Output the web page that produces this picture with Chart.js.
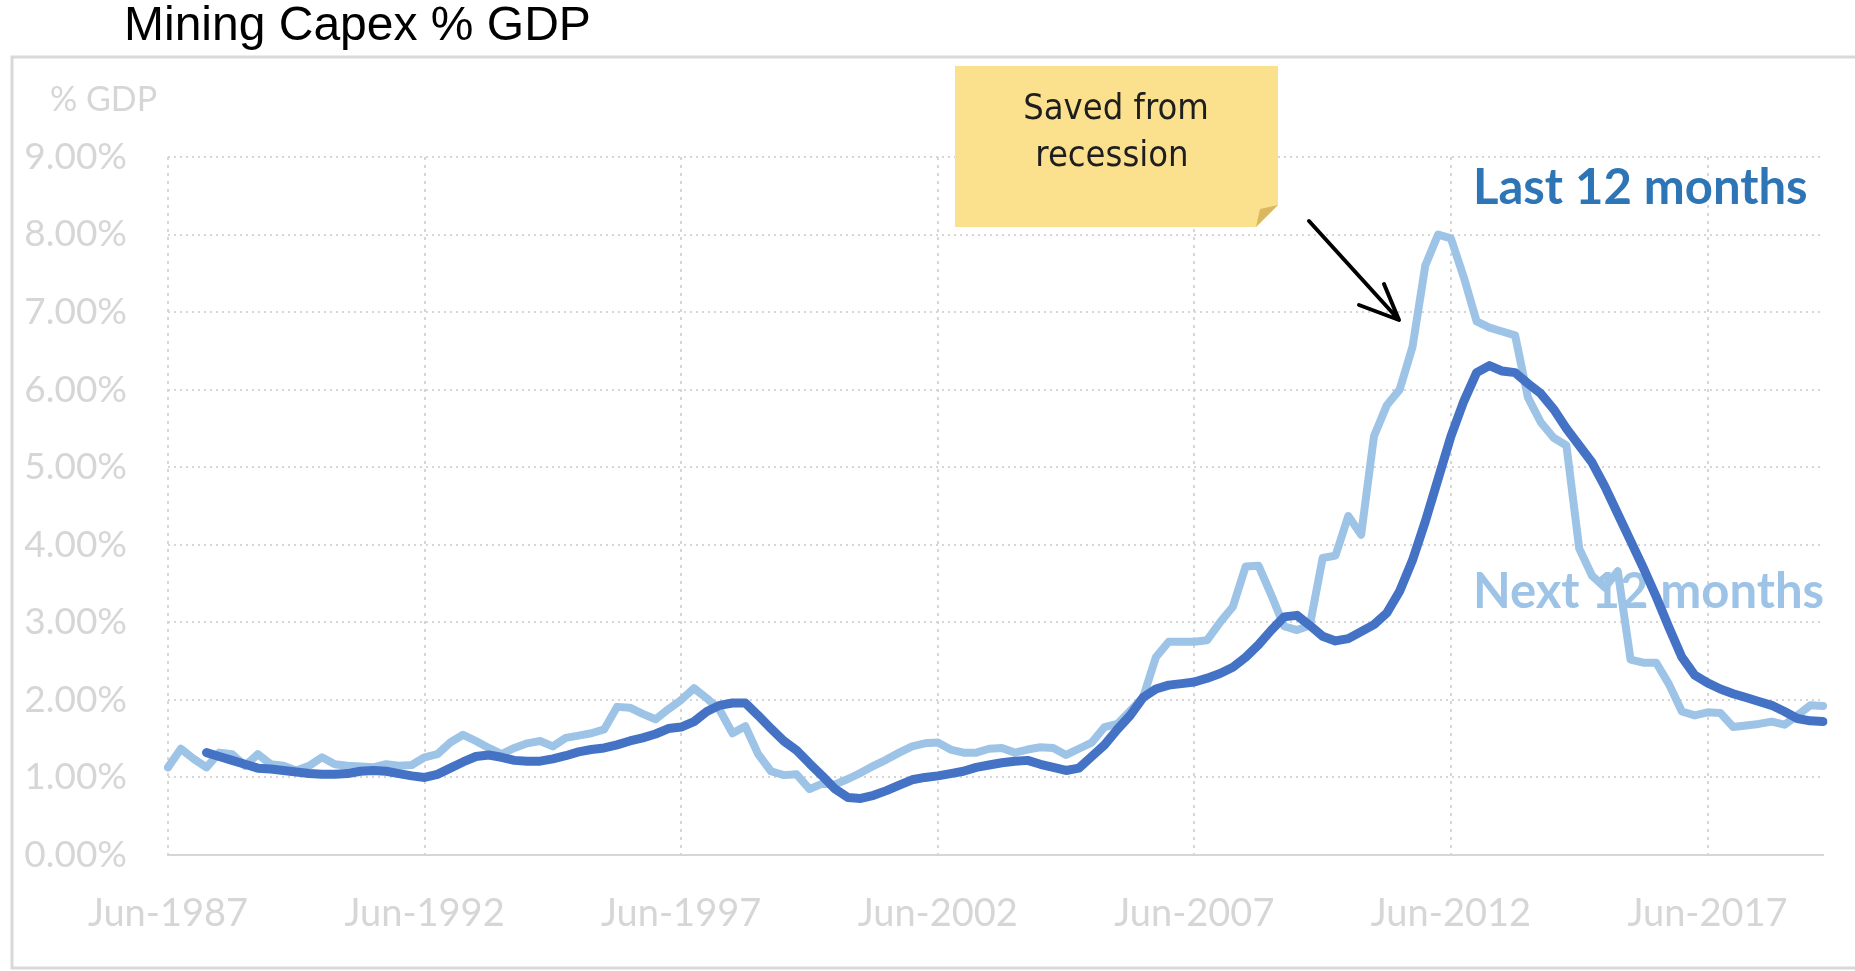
<!DOCTYPE html>
<html><head><meta charset="utf-8">
<script src="https://cdn.jsdelivr.net/npm/chart.js@4.4.1/dist/chart.umd.min.js"></script>
<style>html,body{margin:0;padding:0;background:#fff;overflow:hidden}canvas{display:block}</style>
</head><body>
<canvas id="c" width="1855" height="971"></canvas>
<script>
// Quarterly observations, first quarter = Jun-1987
const quarterNames = ["Mar","Jun","Sep","Dec"];
const firstYear = 1987;
const firstQuarterIndex = 1; // Jun

// "Last 12 months" (% of GDP)
const last12 = [
 null,null,null,1.32,1.27,1.22,1.17,1.12,1.11,1.09,
 1.07,1.05,1.04,1.04,1.05,1.08,1.09,1.08,1.05,1.02,
 1.00,1.04,1.12,1.20,1.27,1.29,1.26,1.22,1.21,1.21,
 1.24,1.28,1.33,1.36,1.38,1.42,1.47,1.51,1.56,1.63,
 1.65,1.72,1.85,1.93,1.96,1.96,1.80,1.63,1.47,1.35,
 1.18,1.02,0.85,0.74,0.73,0.77,0.83,0.90,0.97,1.00,
 1.02,1.05,1.08,1.13,1.16,1.19,1.21,1.22,1.17,1.13,
 1.09,1.12,1.27,1.42,1.62,1.80,2.03,2.14,2.19,2.21,
 2.23,2.28,2.34,2.42,2.55,2.71,2.90,3.07,3.09,2.96,
 2.82,2.76,2.79,2.88,2.97,3.12,3.40,3.80,4.30,4.85,
 5.40,5.85,6.22,6.31,6.24,6.22,6.08,5.95,5.75,5.50,
 5.28,5.06,4.75,4.40,4.05,3.70,3.33,2.93,2.55,2.32,
 2.22,2.14,2.08,2.03,1.98,1.93,1.85,1.76,1.73,1.72
];

// "Next 12 months" (% of GDP)
const next12 = [
 1.13,1.37,1.24,1.13,1.32,1.30,1.15,1.30,1.17,1.15,
 1.09,1.15,1.26,1.17,1.15,1.14,1.13,1.17,1.15,1.16,
 1.26,1.30,1.45,1.55,1.47,1.38,1.30,1.38,1.44,1.47,
 1.40,1.51,1.54,1.57,1.62,1.91,1.90,1.82,1.75,1.88,
 2.00,2.15,2.02,1.87,1.57,1.66,1.30,1.08,1.03,1.04,
 0.85,0.92,0.91,0.98,1.06,1.15,1.23,1.32,1.40,1.44,
 1.45,1.36,1.32,1.32,1.37,1.38,1.32,1.36,1.39,1.38,
 1.29,1.37,1.45,1.65,1.69,1.86,2.03,2.55,2.75,2.75,
 2.75,2.77,3.00,3.20,3.72,3.73,3.35,2.95,2.90,2.96,
 3.83,3.86,4.37,4.13,5.40,5.80,6.00,6.55,7.60,8.00,
 7.95,7.45,6.88,6.80,6.75,6.70,5.90,5.58,5.38,5.28,
 3.95,3.60,3.45,3.66,2.52,2.48,2.48,2.20,1.85,1.80,
 1.84,1.83,1.65,1.67,1.69,1.72,1.68,1.80,1.93,1.92
];

const tickLabels = ["Jun-1987","Jun-1992","Jun-1997","Jun-2002","Jun-2007","Jun-2012","Jun-2017"];
const yTickValues = [0,1,2,3,4,5,6,7,8,9];

const categories = [];
for (let i = 0; i < next12.length; i++) {
  const q = (firstQuarterIndex + i) % 4;
  const y = firstYear + Math.floor((firstQuarterIndex + i) / 4);
  categories.push(quarterNames[q] + "-" + y);
}

const GREY = '#d6d6d6';

const decor = {
  id: 'decor',
  beforeDraw(chart) {
    const ctx = chart.ctx;
    ctx.save();
    ctx.fillStyle = '#fff';
    ctx.fillRect(0, 0, chart.width, chart.height);
    // outer frame
    ctx.strokeStyle = '#d9d9d9';
    ctx.lineWidth = 3;
    ctx.strokeRect(12, 57, 1855, 911);
    // title
    ctx.fillStyle = '#000';
    ctx.font = "48px 'Liberation Sans', Arial, sans-serif";
    ctx.textBaseline = 'middle';
    ctx.textAlign = 'left';
    ctx.fillText('Mining Capex % GDP', 124, 27);
    // axis unit
    ctx.fillStyle = GREY;
    ctx.font = "34px Lato, sans-serif";
    ctx.fillText('% GDP', 50, 100);
    ctx.restore();
  },
  beforeDatasetsDraw(chart) {
    const ctx = chart.ctx;
    ctx.save();
    ctx.textBaseline = 'middle';
    ctx.textAlign = 'left';
    ctx.font = "bold 49px Lato, sans-serif";
    ctx.fillStyle = '#2E75B6';
    ctx.fillText('Last 12 months', 1473, 188);
    ctx.fillStyle = '#9DC3E6';
    ctx.fillText('Next 12 months', 1473, 592);
    ctx.restore();
  },
  afterDraw(chart) {
    const ctx = chart.ctx;
    ctx.save();
    // sticky note
    const L = 955, T = 66, R = 1278, B = 227, f = 22;
    ctx.fillStyle = '#FBE08E';
    ctx.beginPath();
    ctx.moveTo(L, T); ctx.lineTo(R, T); ctx.lineTo(R, B - f); ctx.lineTo(R - f, B); ctx.lineTo(L, B); ctx.closePath();
    ctx.fill();
    ctx.fillStyle = '#D9B860';
    ctx.beginPath();
    ctx.moveTo(R, B - f); ctx.lineTo(R - f, B); ctx.lineTo(R - f + 4, B - f + 4); ctx.closePath();
    ctx.fill();
    ctx.fillStyle = '#1e1e1e';
    ctx.font = "36px 'DejaVu Sans Condensed', 'DejaVu Sans', sans-serif";
    ctx.textAlign = 'center';
    ctx.textBaseline = 'middle';
    ctx.fillText('Saved from', 1116, 110);
    ctx.fillText('recession', 1112, 157);
    // arrow
    ctx.strokeStyle = '#000';
    ctx.lineWidth = 4;
    ctx.lineCap = 'round';
    ctx.lineJoin = 'round';
    ctx.beginPath();
    ctx.moveTo(1309, 221); ctx.lineTo(1399, 320);
    ctx.moveTo(1384, 284); ctx.lineTo(1399, 320); ctx.lineTo(1359, 305);
    ctx.stroke();
    ctx.restore();
  }
};

new Chart(document.getElementById('c'), {
  type: 'line',
  data: {
    labels: categories,
    datasets: [
      { label: 'Last 12 months', data: last12, borderColor: '#4472C4', borderWidth: 9, pointRadius: 0, fill: false },
      { label: 'Next 12 months', data: next12, borderColor: '#9DC3E6', borderWidth: 8, pointRadius: 0, fill: false }
    ]
  },
  options: {
    responsive: false,
    animation: false,
    devicePixelRatio: 1,
    layout: { padding: { left: 12, top: 157, right: 32, bottom: 0 } },
    plugins: { legend: { display: false }, title: { display: false }, tooltip: { enabled: false } },
    elements: { line: { tension: 0, borderCapStyle: 'round', borderJoinStyle: 'round' } },
    scales: {
      x: {
        type: 'category',
        offset: false,
        afterFit(s) { s.height = 116; },
        grid: { color: GREY, lineWidth: 2, drawTicks: false },
        border: { display: true, color: GREY, width: 2, dash: [3, 5] },
        ticks: {
          autoSkip: false, maxRotation: 0, minRotation: 0,
          padding: 36,
          color: GREY,
          font: { family: 'Lato', size: 38 },
          callback(v, i) { const lab = categories[i]; return tickLabels.includes(lab) ? lab : null; }
        }
      },
      y: {
        min: 0, max: 9,
        afterFit(s) { s.width = 156; },
        afterBuildTicks(s) { s.ticks = yTickValues.map(v => ({ value: v })); },
        grid: { color: GREY, lineWidth: 2, drawTicks: false },
        border: { display: false, dash: [2, 4] },
        ticks: {
          padding: 41,
          color: GREY,
          font: { family: 'Lato', size: 37 },
          callback(v) { return Number(v).toFixed(2) + '%'; }
        }
      }
    }
  },
  plugins: [decor]
});
</script>
</body></html>
